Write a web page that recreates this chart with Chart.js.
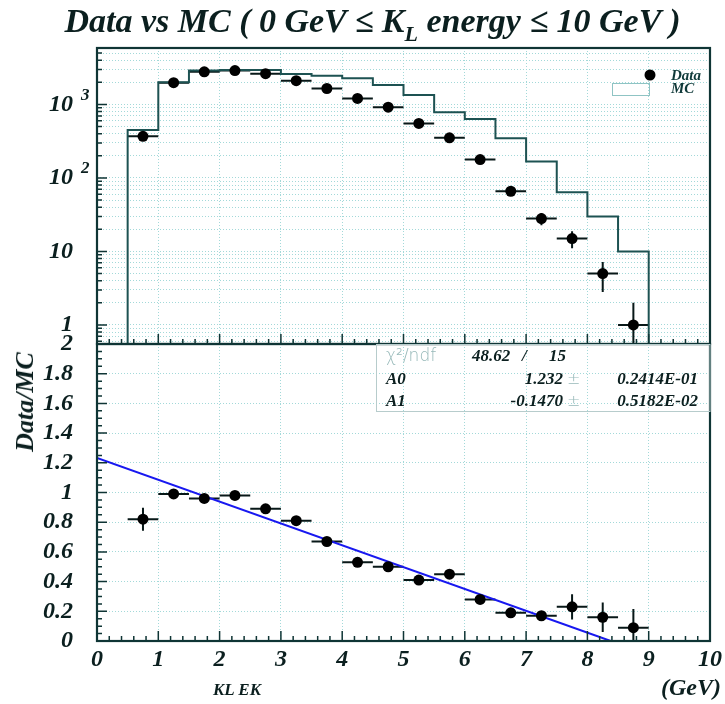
<!DOCTYPE html>
<html>
<head>
<meta charset="utf-8">
<title>KL energy Data vs MC</title>
<script src="https://cdn.jsdelivr.net/npm/chart.js@4/dist/chart.umd.min.js"></script>
<style>
  body { margin: 0; background: #fff; }
  #wrap { position: relative; width: 725px; height: 704px; overflow: hidden;
          font-family: "Liberation Serif", "Times New Roman", serif; font-style: italic; font-weight: bold; color: #0b1f1f; }
  #wrap canvas { position: absolute; left: 0; }
  #plotTop { top: 0; }
  #plotBottom { top: 330px; }
  .txt { position: absolute; white-space: nowrap; }
  #title { left: 10px; width: 725px; top: 4px; text-align: center; font-size: 34px; line-height: 34px; }
  #title sub { font-size: 22px; vertical-align: -9px; line-height: 0; }
  #ytitle { left: 25px; top: 402px; font-size: 26px; transform: translate(-50%, -50%) rotate(-90deg); }
  #xtitle { left: 213px; top: 680px; font-size: 17px; }
  #xunit { left: 661px; top: 673px; font-size: 24px; line-height: 28px; }
</style>
</head>
<body>
<div id="wrap">
  <canvas id="plotTop" width="725" height="350"></canvas>
  <canvas id="plotBottom" width="725" height="374"></canvas>
  <div id="title" class="txt">Data vs MC ( 0 GeV &le; K<sub>L</sub> energy &le; 10 GeV )</div>
  <div id="ytitle" class="txt">Data/MC</div>
  <div id="xtitle" class="txt">KL EK</div>
  <div id="xunit" class="txt">(GeV)</div>
</div>
<script>
// 0.5 GeV bins from 0.5 to 9.0 GeV
const binLow = [0.5, 1.0, 1.5, 2.0, 2.5, 3.0, 3.5, 4.0, 4.5, 5.0, 5.5, 6.0, 6.5, 7.0, 7.5, 8.0, 8.5];
const binCenters = [0.75, 1.25, 1.75, 2.25, 2.75, 3.25, 3.75, 4.25, 4.75, 5.25, 5.75, 6.25, 6.75, 7.25, 7.75, 8.25, 8.75];
const binWidth = 0.5;

const mcCounts = [450, 2000, 2900, 2950, 2950, 2600, 2470, 2280, 1840, 1350, 783, 635, 347, 167, 64, 30, 10];
const dataCounts = [369, 1980, 2780, 2890, 2630, 2110, 1650, 1210, 920, 553, 352, 178, 66, 28, 15, 5, 1];
const dataErrors = [19, 44, 53, 54, 51, 46, 41, 35, 30, 24, 19, 13, 8.1, 5.3, 3.9, 2.2, 1.0];

const ratio = [0.82, 0.99, 0.96, 0.98, 0.89, 0.81, 0.67, 0.53, 0.50, 0.41, 0.45, 0.28, 0.19, 0.17, 0.23, 0.16, 0.09];
const ratioErrors = [0.078, 0.03, 0.025, 0.025, 0.025, 0.025, 0.02, 0.02, 0.02, 0.02, 0.025, 0.02, 0.025, 0.03, 0.085, 0.10, 0.125];

// linear fit of the ratio: A0 + A1*E
const fitA0 = 1.232;
const fitA1 = -0.1470;
const fitRows = [
  ['A0', '1.232', '0.2414E-01'],
  ['A1', '-0.1470', '0.5182E-02']
];
const chi2Text = '48.62';
const ndfText = '15';

const xTickLabels = ['0', '1', '2', '3', '4', '5', '6', '7', '8', '9', '10'];
const logLabels = [1, 10, 100, 1000];
const yTopMin = 0.551, yTopMax = 5870;

const TEXT = '#0b1f1f';
const FRAME = '#0f3535';
const GRID = '#a3d9d9';
const MC_LINE = '#1d5252';
const SERIF = '"Liberation Serif", "Times New Roman", serif';
const font = size => `italic bold ${size}px ${SERIF}`;

// minor log grid: 1..9 x 10^n inside the axis range
function logGridValues() {
  const out = [];
  [0.1, 1, 10, 100, 1000].forEach(d => {
    for (let m = 1; m <= 9; m++) {
      const v = m * d;
      if (v >= yTopMin && v <= yTopMax) out.push(v);
    }
  });
  return out;
}

// ROOT-like frame with inner tick marks
function framePlugin(leftTicks) {
  return {
    id: 'rootFrame',
    afterDatasetsDraw(chart) {
      const {ctx, chartArea: a, scales: {x, y}} = chart;
      ctx.save();
      ctx.strokeStyle = FRAME;
      ctx.lineWidth = 1.5;
      ctx.beginPath();
      for (let k = 0; k <= 50; k++) {
        const px = x.getPixelForValue(k / 5);
        const len = k % 5 === 0 ? 10 : 5;
        ctx.moveTo(px, a.bottom); ctx.lineTo(px, a.bottom - len);
      }
      leftTicks().forEach(t => {
        const py = y.getPixelForValue(t.v);
        ctx.moveTo(a.left, py); ctx.lineTo(a.left + t.len, py);
      });
      ctx.stroke();
      ctx.lineWidth = 2.2;
      ctx.strokeRect(a.left, a.top, a.right - a.left, a.bottom - a.top);
      ctx.restore();
    }
  };
}

// error bars: +-half bin in x, +-err in y
const errorBars = {
  id: 'errorBars',
  beforeDatasetsDraw(chart) {
    const {ctx, chartArea: a, scales: {x, y}} = chart;
    const ds = chart.data.datasets[0];
    ctx.save();
    ctx.beginPath();
    ctx.rect(a.left, a.top, a.right - a.left, a.bottom - a.top);
    ctx.clip();
    ctx.strokeStyle = '#081818';
    ctx.lineWidth = 2;
    ctx.beginPath();
    ds.data.forEach((p, i) => {
      const e = ds.errors[i];
      const px = x.getPixelForValue(p.x);
      const py = y.getPixelForValue(p.y);
      ctx.moveTo(x.getPixelForValue(p.x - binWidth / 2), py);
      ctx.lineTo(x.getPixelForValue(p.x + binWidth / 2), py);
      const lo = Math.max(p.y - e, y.min);
      ctx.moveTo(px, y.getPixelForValue(p.y + e));
      ctx.lineTo(px, y.getPixelForValue(lo));
    });
    ctx.stroke();
    ctx.restore();
  }
};

// log axis labels with raised exponents, plus the legend
const topDecor = {
  id: 'topDecor',
  afterDraw(chart) {
    const {ctx, scales: {y}} = chart;
    ctx.save();
    ctx.fillStyle = TEXT;
    ctx.textBaseline = 'middle';
    logLabels.forEach(v => {
      const py = y.getPixelForValue(v);
      const exp = Math.round(Math.log10(v));
      ctx.font = font(24);
      ctx.textAlign = 'right';
      ctx.fillText(exp === 0 ? '1' : '10', 73, py);
      if (exp > 1) {
        ctx.font = font(17);
        ctx.textAlign = 'left';
        ctx.fillText(String(exp), 81, py - 9);
      }
    });
    // legend
    ctx.beginPath();
    ctx.arc(650, 75, 5.5, 0, Math.PI * 2);
    ctx.fillStyle = '#000';
    ctx.fill();
    ctx.strokeStyle = '#8fc4c4';
    ctx.lineWidth = 1;
    ctx.strokeRect(612.5, 83.5, 37, 12);
    ctx.fillStyle = '#103a3a';
    ctx.font = font(15);
    ctx.textAlign = 'left';
    ctx.fillText('Data', 671, 76);
    ctx.fillText('MC', 671, 89);
    ctx.restore();
  }
};

// fit statistics box
const statsBox = {
  id: 'statsBox',
  afterDraw(chart) {
    const {ctx, chartArea: a} = chart;
    const top = a.top;
    ctx.save();
    ctx.strokeStyle = '#b7cccc';
    ctx.lineWidth = 1;
    ctx.strokeRect(376.5, top + 0.5, a.right - 376.5, 67);
    ctx.textBaseline = 'middle';
    ctx.font = '300 17px "DejaVu Sans", sans-serif';
    ctx.fillStyle = '#97b9b9';
    ctx.textAlign = 'left';
    ctx.fillText('\u03c7\u00b2/ndf', 386, top + 13);
    ctx.fillStyle = TEXT;
    ctx.font = font(17);
    ctx.fillText(chi2Text, 472, top + 13);
    ctx.fillText('/', 522, top + 13);
    ctx.fillText(ndfText, 549, top + 13);
    fitRows.forEach((r, i) => {
      const yy = top + 36 + i * 22;
      ctx.font = font(17);
      ctx.fillStyle = TEXT;
      ctx.textAlign = 'left';
      ctx.fillText(r[0], 386, yy);
      ctx.textAlign = 'right';
      ctx.fillText(r[1], 563, yy);
      ctx.fillText(r[2], 698, yy);
      ctx.font = '300 16px "DejaVu Sans", sans-serif';
      ctx.fillStyle = '#97b9b9';
      ctx.textAlign = 'left';
      ctx.fillText('\u00b1', 567, yy);
    });
    ctx.restore();
  }
};

// MC histogram outline, from the axis floor up and back down
const mcPoints = [{x: binLow[0], y: yTopMin}];
binLow.forEach((lo, i) => mcPoints.push({x: lo, y: mcCounts[i]}));
mcPoints.push({x: binLow[binLow.length - 1] + binWidth, y: mcCounts[mcCounts.length - 1]});
mcPoints.push({x: binLow[binLow.length - 1] + binWidth, y: yTopMin});

const gridOpts = {color: GRID, lineWidth: 1, drawTicks: false};
const dash = {display: false, dash: [1, 2]};

// fixed axis sizes, no label overhang padding
const fixWidth = s => { s.width = 97; s.paddingTop = 0; s.paddingBottom = 0; };
const fixHeight = h => s => { s.height = h; s.paddingLeft = 0; s.paddingRight = 0; };

new Chart(document.getElementById('plotTop'), {
  type: 'scatter',
  data: {
    datasets: [
      {
        label: 'Data',
        data: binCenters.map((c, i) => ({x: c, y: dataCounts[i]})),
        errors: dataErrors,
        pointRadius: 5.5,
        pointBackgroundColor: '#000',
        pointBorderWidth: 0,
        showLine: false
      },
      {
        label: 'MC',
        data: mcPoints,
        showLine: true,
        stepped: 'before',
        borderColor: MC_LINE,
        borderWidth: 2,
        pointRadius: 0,
        fill: false
      }
    ]
  },
  options: {
    responsive: false,
    animation: false,
    events: [],
    layout: {padding: {left: 0, right: 15, top: 48, bottom: 6}},
    plugins: {legend: {display: false}, tooltip: {enabled: false}},
    scales: {
      x: {
        type: 'linear', min: 0, max: 10,
        ticks: {stepSize: 1, display: false},
        grid: gridOpts, border: dash,
        afterFit: fixHeight(0)
      },
      y: {
        type: 'logarithmic', min: yTopMin, max: yTopMax,
        afterBuildTicks: s => { s.ticks = logGridValues().map(v => ({value: v})); },
        ticks: {display: false},
        grid: gridOpts, border: dash,
        afterFit: fixWidth
      }
    }
  },
  plugins: [errorBars, topDecor, framePlugin(() => logGridValues().map(v => {
    const m = v / Math.pow(10, Math.floor(Math.log10(v) + 1e-9));
    return {v: v, len: Math.abs(m - 1) < 1e-6 ? 10 : 5};
  }))]
});

new Chart(document.getElementById('plotBottom'), {
  type: 'scatter',
  data: {
    datasets: [
      {
        label: 'Data/MC',
        data: binCenters.map((c, i) => ({x: c, y: ratio[i]})),
        errors: ratioErrors,
        pointRadius: 5.5,
        pointBackgroundColor: '#000',
        pointBorderWidth: 0,
        showLine: false
      },
      {
        label: 'fit',
        data: [{x: 0, y: fitA0}, {x: -fitA0 / fitA1, y: 0}],
        showLine: true,
        borderColor: '#1818f0',
        borderWidth: 2,
        pointRadius: 0,
        fill: false
      }
    ]
  },
  options: {
    responsive: false,
    animation: false,
    events: [],
    layout: {padding: {left: 0, right: 15, top: 14, bottom: 0}},
    plugins: {legend: {display: false}, tooltip: {enabled: false}},
    scales: {
      x: {
        type: 'linear', min: 0, max: 10,
        ticks: {
          stepSize: 1, padding: 4, color: TEXT, maxRotation: 0, autoSkip: false,
          font: {family: SERIF, size: 24, style: 'italic', weight: 'bold'},
          callback: v => xTickLabels[Math.round(v)]
        },
        grid: gridOpts, border: dash,
        afterFit: fixHeight(63)
      },
      y: {
        type: 'linear', min: 0, max: 2,
        ticks: {
          stepSize: 0.2, padding: 24, color: TEXT, autoSkip: false,
          font: {family: SERIF, size: 24, style: 'italic', weight: 'bold'},
          callback: v => String(+v.toFixed(1))
        },
        grid: gridOpts, border: dash,
        afterFit: fixWidth
      }
    }
  },
  plugins: [errorBars, statsBox, framePlugin(() => {
    const t = [];
    for (let k = 0; k <= 40; k++) t.push({v: k * 0.05, len: k % 4 === 0 ? 10 : 5});
    return t;
  })]
});
</script>
</body>
</html>
